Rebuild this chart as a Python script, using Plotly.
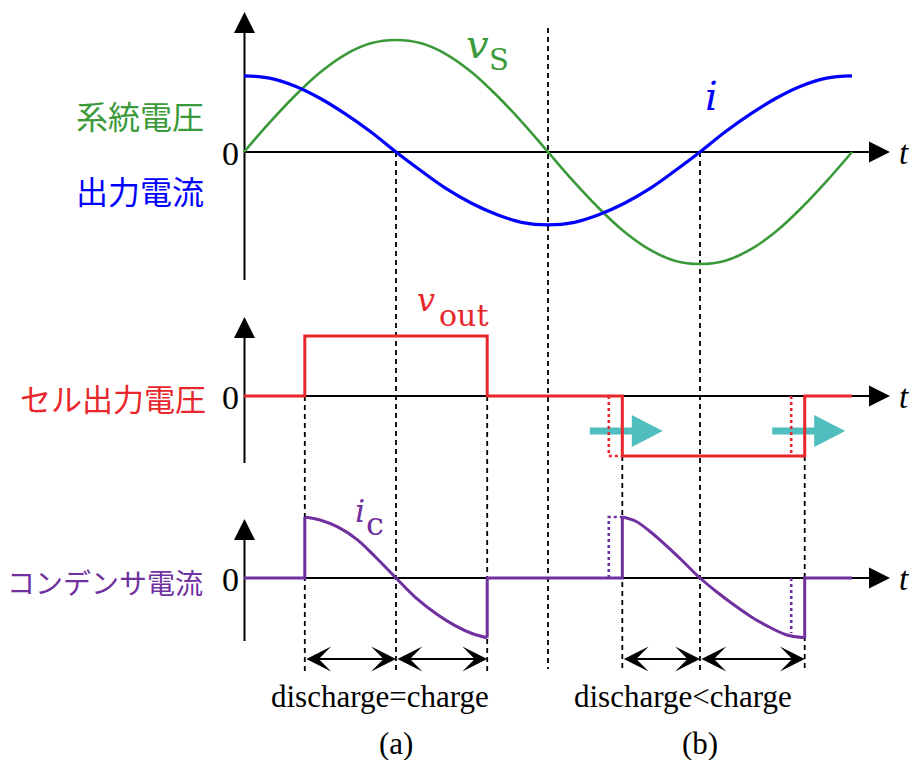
import plotly.graph_objects as go

W, H = 910, 760

# ---------------- data ----------------
# electrical angle (deg) over one grid period
theta = [0, 15, 30, 45, 60, 75, 90, 105, 120, 135, 150, 165, 180,
         195, 210, 225, 240, 255, 270, 285, 300, 315, 330, 345, 360]
# grid voltage v_S (normalised)
v_s = [0.00, 0.26, 0.50, 0.71, 0.87, 0.97, 1.00, 0.97, 0.87, 0.71, 0.50, 0.26, 0.00,
       -0.26, -0.50, -0.71, -0.87, -0.97, -1.00, -0.97, -0.87, -0.71, -0.50, -0.26, 0.00]
# output current i
i_out = [0.68, 0.66, 0.59, 0.48, 0.34, 0.18, 0.00, -0.17, -0.33, -0.46, -0.56, -0.63, -0.65,
         -0.63, -0.56, -0.46, -0.33, -0.17, 0.00, 0.18, 0.34, 0.48, 0.59, 0.66, 0.68]

# cell output voltage v_out (square pulses)
vout_t = [0, 36, 36, 144, 144, 224, 224, 332, 332, 360]
vout_v = [0, 0, 1, 1, 0, 0, -1, -1, 0, 0]
# pulse edges before the shift in (b)
vout_prev1_t = [216, 216, 224]
vout_prev1_v = [0, -1, -1]
vout_prev2_t = [324, 324]
vout_prev2_v = [0, -1]

# capacitor current i_c
ic_step1_t = [0, 36, 36]
ic_step1_v = [0, 0, 1.00]
ic_a_t = [36, 45, 56, 67, 78, 90, 102, 114, 125, 135, 144]
ic_a_v = [1.00, 0.95, 0.83, 0.63, 0.34, 0.00, -0.33, -0.59, -0.78, -0.91, -0.98]
ic_step2_t = [144, 144, 224, 224]
ic_step2_v = [-0.98, 0, 0, 1.00]
ic_b_t = [224, 232, 241, 250, 260, 270, 280, 290, 300, 310, 321, 332]
ic_b_v = [1.00, 0.93, 0.75, 0.53, 0.27, 0.00, -0.23, -0.44, -0.63, -0.79, -0.93, -0.98]
ic_step3_t = [332, 332, 360]
ic_step3_v = [-0.98, 0, 0]
ic_prev1_t = [216, 216, 224]
ic_prev1_v = [0, 1.00, 1.00]
ic_prev2_t = [324, 324]
ic_prev2_v = [0, -0.90]

# time markers and charge / discharge intervals
marks_top = [90, 270]          # zero crossings of i
mark_mid = 180                 # zero crossing of v_S
marks_a = [36, 144]
marks_b = [224, 332]
intervals = [(36, 90), (90, 144), (224, 270), (270, 332)]
shift_edges = [216, 324]

# ---------------- geometry ----------------
X0, SPAN = 244, 608            # pixel position of t=0 and pixel length of 360 deg
ZERO = [152, 396, 578]         # pixel rows of the three zero lines
SCALE = [112, 60, 61]          # pixels per unit in the three panels

GREEN = "#3a9a3a"
BLUE = "#0000ff"
RED = "#e8262b"
PURPLE = "#7030a0"
CYAN = "#50bebe"


def px(deg):
    return X0 + deg * SPAN / 360


def fx(p):
    return p / W


def fy(p):
    return 1 - p / H


def yrange(k):
    return [(ZERO[k] - H) / SCALE[k], ZERO[k] / SCALE[k]]


fig = go.Figure()


def line(t, v, color, axis, width=3, shape="linear", dash=None):
    fig.add_trace(go.Scatter(
        x=t, y=v, yaxis=axis, mode="lines",
        line=dict(color=color, width=width, shape=shape, dash=dash, smoothing=1.0),
        hoverinfo="skip", showlegend=False))


# top panel
line(theta, v_s, GREEN, "y", width=2.6, shape="spline")
line(theta, i_out, BLUE, "y", width=3.2, shape="spline")

# middle panel
line(vout_t, vout_v, RED, "y2", width=3)
line(vout_prev1_t, vout_prev1_v, RED, "y2", width=2.6, dash="3px,3px")
line(vout_prev2_t, vout_prev2_v, RED, "y2", width=2.6, dash="3px,3px")

# bottom panel
line(ic_step1_t, ic_step1_v, PURPLE, "y3")
line(ic_a_t, ic_a_v, PURPLE, "y3", shape="spline")
line(ic_step2_t, ic_step2_v, PURPLE, "y3")
line(ic_b_t, ic_b_v, PURPLE, "y3", shape="spline")
line(ic_step3_t, ic_step3_v, PURPLE, "y3")
line(ic_prev1_t, ic_prev1_v, PURPLE, "y3", width=2.6, dash="3px,3px")
line(ic_prev2_t, ic_prev2_v, PURPLE, "y3", width=2.6, dash="3px,3px")

shapes = []


def seg(x0, y0, x1, y1, width=2, color="black", dash=None, xref="paper"):
    shapes.append(dict(type="line", xref=xref, yref="paper",
                       x0=x0, y0=fy(y0), x1=x1, y1=fy(y1), layer="below",
                       line=dict(color=color, width=width, dash=dash)))


def poly(pts, color):
    path = "M " + " L ".join(f"{fx(a):.5f},{fy(b):.5f}" for a, b in pts) + " Z"
    shapes.append(dict(type="path", xref="paper", yref="paper", path=path,
                       fillcolor=color, line=dict(width=0), layer="below"))


# drawn axes with arrowheads
axis_tops = [(12, 280), (317, 463), (519, 641)]
for k, (tip, bottom) in enumerate(axis_tops):
    ax_x = 244.5
    seg(fx(ax_x), bottom, fx(ax_x), tip + 20)
    poly([(ax_x, tip), (ax_x - 10.5, tip + 21), (ax_x + 10.5, tip + 21)], "black")
    z = ZERO[k]
    seg(fx(244), z, fx(870), z)
    poly([(890, z), (869, z - 10.5), (869, z + 10.5)], "black")

# dashed time markers
DASH = "5px,4px"
DW = 1.8
for t in marks_top:
    seg(t, ZERO[0], t, 671, width=DW, dash=DASH, xref="x")
seg(mark_mid, 28, mark_mid, 669, width=DW, dash=DASH, xref="x")
for t in marks_a:
    seg(t, ZERO[1], t, 671, width=DW, dash=DASH, xref="x")
for t in marks_b:
    seg(t, ZERO[1] + SCALE[1], t, 671, width=DW, dash=DASH, xref="x")

# cyan arrows showing the pulse shift
for t in shift_edges:
    e = px(t)
    yc = 431
    poly([(e - 19, yc - 3.5), (e + 23, yc - 3.5), (e + 23, yc - 16), (e + 54, yc),
          (e + 23, yc + 16), (e + 23, yc + 3.5), (e - 19, yc + 3.5)], CYAN)

annotations = []


def txt(text, x, y, size, color="black", family="Liberation Serif",
        xanchor="center", yanchor="middle"):
    annotations.append(dict(text=text, x=fx(x), y=fy(y), xref="paper", yref="paper",
                            xanchor=xanchor, yanchor=yanchor, showarrow=False,
                            font=dict(size=size, color=color, family=family)))


# double arrows for charge / discharge intervals
y_arrow = (ZERO[2] - 659) / SCALE[2]
for a, b in intervals:
    annotations.append(dict(x=b, y=y_arrow, ax=a, ay=y_arrow, xref="x", yref="y3",
                            axref="x", ayref="y3", text="", showarrow=True,
                            arrowside="end+start", arrowhead=3, startarrowhead=3,
                            arrowsize=2.3, startarrowsize=2.3, arrowwidth=1.8,
                            arrowcolor="black", standoff=0, startstandoff=0))

# row labels
JP = "Noto Sans CJK JP"
txt("系統電圧", 206, 115, 32, GREEN, JP, xanchor="right")
txt("出力電流", 206, 190, 32, BLUE, JP, xanchor="right")
txt("セル出力電圧", 208, 397, 31, RED, JP, xanchor="right")
txt("コンデンサ電流", 205, 582, 28, PURPLE, JP, xanchor="right")

# zeros and time labels
for z in ZERO:
    txt("0", 230.5, z + 1, 34)
    txt("<i>t</i>", 904, z + 1, 33)

# signal names
MATH = "DejaVu Serif"
txt("<i>v</i>", 477, 44, 40, GREEN, MATH)
txt("S", 499, 60, 29, GREEN, MATH)
txt("<i>i</i>", 711, 96, 40, BLUE, MATH)
txt("<i>v</i>", 426, 300, 32, RED, MATH)
txt("out", 463, 316, 30, RED, MATH)
txt("<i>i</i>", 360, 511, 32, PURPLE, MATH)
txt("c", 375, 524, 32, PURPLE, MATH)

# captions
txt("discharge=charge", 380, 696, 31)
txt("discharge&lt;charge", 683, 696, 31)
txt("(a)", 396, 743, 31)
txt("(b)", 700, 743, 31)

fig.update_layout(
    width=W, height=H, autosize=False,
    margin=dict(l=0, r=0, t=0, b=0, pad=0),
    paper_bgcolor="white", plot_bgcolor="white",
    xaxis=dict(range=[-X0 * 360 / SPAN, (W - X0) * 360 / SPAN], visible=False,
               fixedrange=True),
    yaxis=dict(range=yrange(0), visible=False, fixedrange=True),
    yaxis2=dict(range=yrange(1), visible=False, overlaying="y", fixedrange=True),
    yaxis3=dict(range=yrange(2), visible=False, overlaying="y", fixedrange=True),
    shapes=shapes, annotations=annotations, showlegend=False,
)

fig.write_html("out.html", config=dict(displayModeBar=False))
